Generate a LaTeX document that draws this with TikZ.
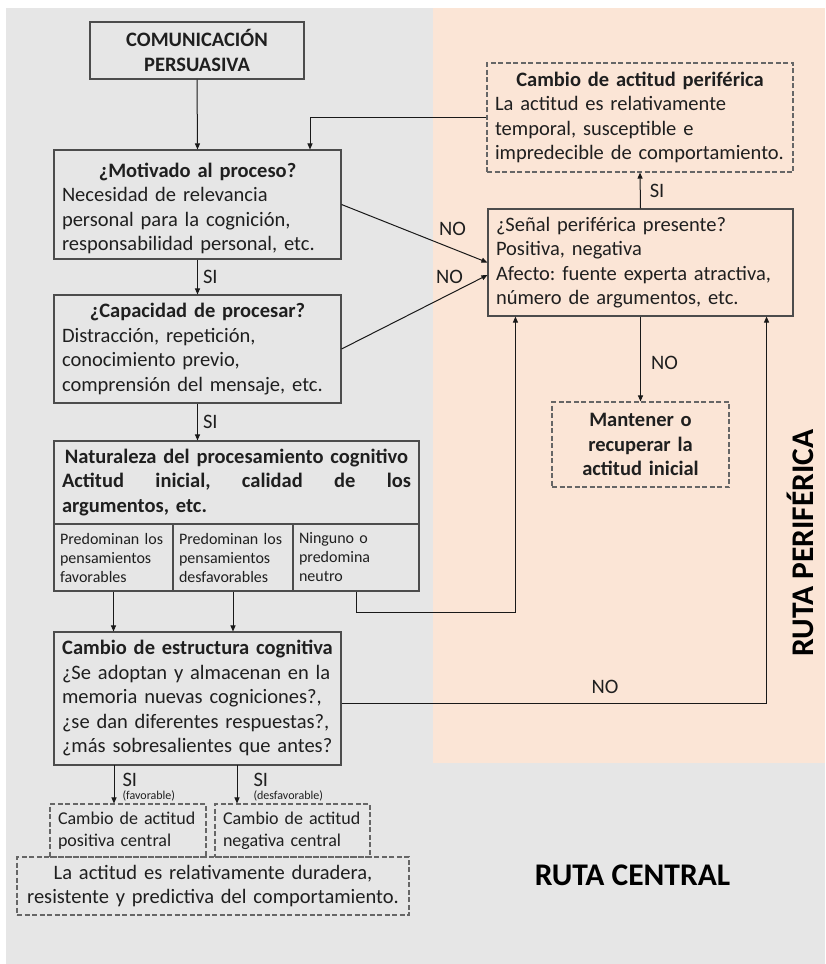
\documentclass[tikz,border=0pt]{standalone}
\usepackage{fontspec}
\setmainfont{Carlito}
\frenchspacing
\usetikzlibrary{arrows.meta}
\definecolor{central}{HTML}{E6E6E6}
\definecolor{periferica}{HTML}{FBE5D6}

\begin{document}
\begin{tikzpicture}[x=1pt,y=-1pt,
  every node/.style={text=black!88},
  main box/.style={draw=black!70,line width=1.1pt,inner xsep=8pt,inner ysep=2pt,
    align=left,font=\fontsize{20.5}{24.5}\selectfont},
  dash box/.style={main box,draw=black!60,dash pattern=on 5pt off 2.5pt},
  cell box/.style={main box,inner xsep=6pt,font=\fontsize{16}{19}\selectfont},
  arrow/.style={draw=black!90,line width=1pt,-{Triangle[length=6pt,width=5pt]}},
  tag/.style={font=\fontsize{20.5}{24.5}\selectfont,inner sep=2pt},
  route/.style={font=\fontsize{31.5}{36}\selectfont\bfseries,text=black}]

  % fondo de las dos rutas
  \useasboundingbox (0,0) rectangle (825,964);
  \fill[white] (0,0) rectangle (825,964);
  \fill[central] (6,8) rectangle (825,964);
  \fill[periferica] (433,8) rectangle (825,763);

  % ruta central
  \node[main box,align=center,font=\fontsize{20.5}{25}\selectfont\bfseries,
    text width=198pt,minimum height=57pt] (1) at (197,50.5) {COMUNICACIÓN\\PERSUASIVA};
  \node[main box,text width=271pt,minimum height=109pt] (2) at (197.5,204.5)
    {{\centering\bfseries\rule{0pt}{22pt}¿Motivado al proceso?\par}Necesidad de relevancia\\personal para la cognición,\\responsabilidad personal, etc.};
  \node[main box,text width=271pt,minimum height=108pt] (3) at (197.5,349)
    {{\centering\bfseries ¿Capacidad de procesar?\par}Distracción, repetición,\\conocimiento previo,\\comprensión del mensaje, etc.};
  \node[main box,font=\fontsize{20.5}{24.5}\selectfont\bfseries,text width=349pt,minimum height=83pt] (4) at (236.5,482.5)
    {{\centering Naturaleza del procesamiento cognitivo\par}Actitud\hfill inicial,\hfill calidad\hfill de\hfill los\\argumentos, etc.};
  \node[cell box,text width=107pt,minimum height=67pt] (c1) at (113.5,557.5) {Predominan los\\pensamientos\\favorables};
  \node[cell box,text width=108pt,minimum height=67pt] (c2) at (233,557.5) {Predominan los\\pensamientos\\desfavorables};
  \node[cell box,text width=114pt,minimum height=67pt] (c3) at (356,557.5) {Ninguno o\\predomina\\neutro};
  \node[main box,text width=271pt,minimum height=133pt] (5) at (197.5,698.5)
    {{\centering\bfseries Cambio de estructura cognitiva\par}¿Se adoptan y almacenan en la\\memoria nuevas cogniciones?,\\¿se dan diferentes respuestas?,\\¿más sobresalientes que antes?};
  \node[dash box,font=\fontsize{18}{22}\selectfont,text width=140pt,minimum height=53pt] (9) at (128,830.5)
    {Cambio de actitud\\positiva central};
  \node[dash box,font=\fontsize{18}{22}\selectfont,text width=139pt,minimum height=53pt] (10) at (292.5,830.5)
    {Cambio de actitud\\negativa central};
  \node[dash box,align=center,text width=376pt,minimum height=58pt] (11) at (213,886)
    {La actitud es relativamente duradera,\\resistente y predictiva del comportamiento.};

  % ruta periferica
  \node[main box,text width=289pt,minimum height=107pt] (6) at (640.5,262.5)
    {¿Señal periférica presente?\\Positiva, negativa\\Afecto: fuente experta atractiva,\\número de argumentos, etc.};
  \node[dash box,align=center,font=\fontsize{20.5}{24.5}\selectfont\bfseries,
    text width=161pt,minimum height=85pt] (7) at (640.5,444.5) {Mantener o\\recuperar la\\actitud inicial};
  \node[dash box,text width=290pt,minimum height=109pt] (8) at (640,117.5)
    {{\centering\bfseries Cambio de actitud periférica\par}La actitud es relativamente\\temporal, susceptible e\\impredecible de comportamiento.};

  \node[route,rotate=90] (rp) at (800,543) {RUTA PERIFÉRICA};
  \node[route] (rc) at (632.5,875) {RUTA CENTRAL};

  \coordinate (s1) at (114,765);
  \coordinate (s2) at (237,765);
  \coordinate (e1) at ([xshift=28pt]6.south west);
  \coordinate (e2) at ([xshift=-27pt]6.south east);

  \path[every edge/.style={arrow}]
   (1.south) edge (2.north)
   (2.south) edge node[tag,right=3pt]{SI} (3.north)
   (3.south) edge node[tag,right=3pt]{SI} (3.south |- 4.north)
   (2.east) edge node[tag,pos=0.76,above=10pt]{NO} (6.west)
   (3.east) edge node[tag,pos=0.74,above=8pt]{NO} ([yshift=-12.5pt]6.west)
   (c1.south) edge (c1.south |- 5.north)
   (c2.south) edge (c2.south |- 5.north)
   (6.north) edge node[tag,right=7pt]{SI} (8.south)
   (6.south) edge node[tag,pos=0.55,right=8pt]{NO} (7.north);

  \draw[arrow] (s1) -- node[tag,right=6pt,yshift=-3pt,align=left]{SI\\[-12pt]{\fontsize{12}{13}\selectfont(favorable)}} (s1 |- 9.north);
  \draw[arrow] (s2) -- node[tag,right=14pt,yshift=-3pt,align=left]{SI\\[-12pt]{\fontsize{12}{13}\selectfont(desfavorable)}} (s2 |- 10.north);
  \draw[arrow] (c3.south) -- ++(0,21) -| (e1);
  \draw[arrow] ([yshift=-4.5pt]5.east) -| node[tag,pos=0.31,above=7pt]{NO} (e2);
  \draw[arrow] (8.west) -| ([xshift=112.5pt]2.north);
\end{tikzpicture}
\end{document}
